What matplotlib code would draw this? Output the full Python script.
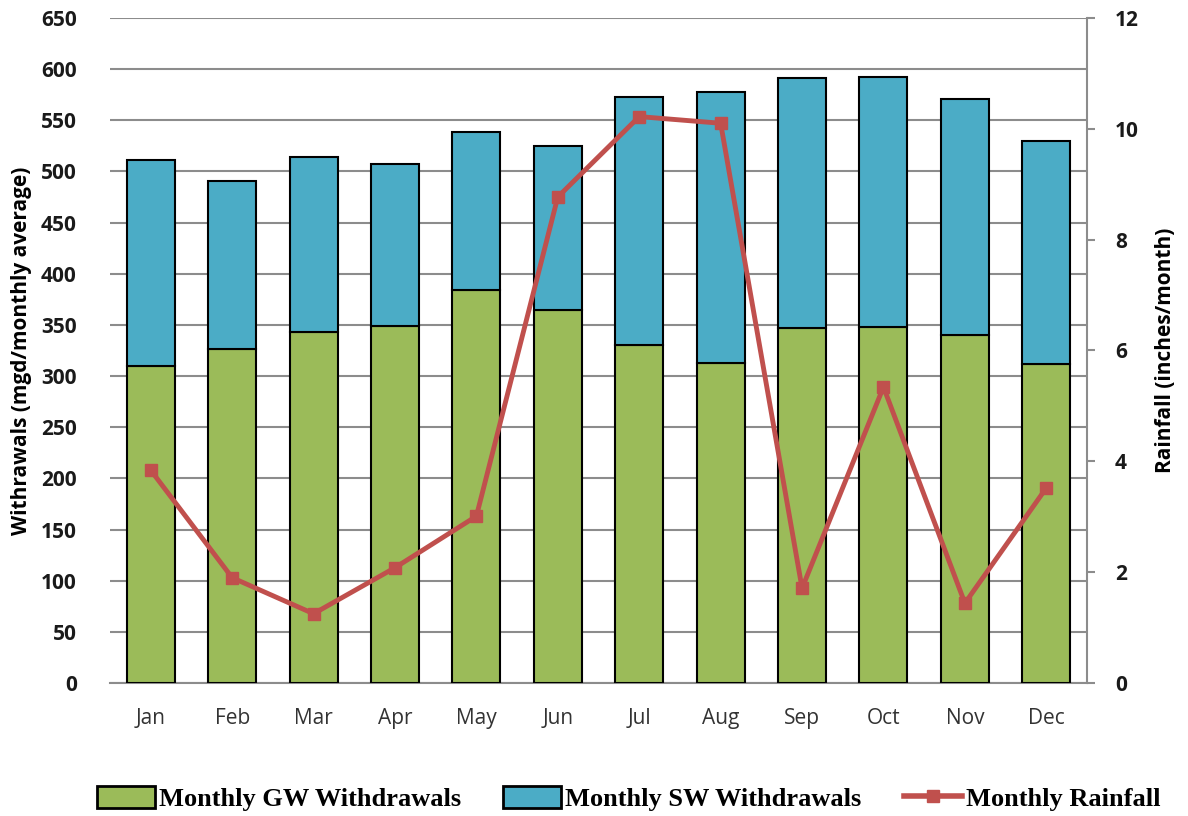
import matplotlib
matplotlib.use("Agg")
import matplotlib.pyplot as plt
from matplotlib.patches import Patch
from matplotlib.lines import Line2D
import numpy as np

months = ["Jan", "Feb", "Mar", "Apr", "May", "Jun", "Jul", "Aug", "Sep", "Oct", "Nov", "Dec"]
gw = [310, 326, 343, 349, 384, 365, 330, 313, 347, 348, 340, 312]
total = [511, 491, 514, 507, 539, 525, 573, 578, 591, 592, 571, 530]
sw = [t - g for t, g in zip(total, gw)]
rain = [3.84, 1.90, 1.25, 2.08, 3.01, 8.77, 10.22, 10.10, 1.71, 5.34, 1.44, 3.52]

GREEN = "#9BBB59"
BLUE = "#4BACC6"
RED = "#C0504D"
GRID = "#8C8C8C"

fig = plt.figure(figsize=(11.88, 8.16), dpi=100)
ax = fig.add_axes([0.0926, 0.163, 0.8224, 0.815])
x = np.arange(len(months))
w = 0.59
ax.bar(x, gw, w, color=GREEN, edgecolor="black", linewidth=1.5, zorder=3)
ax.bar(x, sw, w, bottom=gw, color=BLUE, edgecolor="black", linewidth=1.5, zorder=3)
ax.set_xlim(-0.5, 11.5)
ax.set_ylim(0, 650)
ax.set_yticks(range(0, 651, 50))
ax.yaxis.grid(True, color=GRID, linewidth=1.5, zorder=0)
ax.set_axisbelow(True)
for s in ["top", "left", "right"]:
    ax.spines[s].set_visible(False)
ax.spines["bottom"].set_color(GRID)
ax.spines["bottom"].set_linewidth(1.5)
ax.tick_params(axis="y", length=0, pad=24, labelsize=15, labelcolor="#1a1a1a")
ax.tick_params(axis="x", length=0, pad=18, labelsize=15, labelcolor="#333333")
for lab in ax.get_yticklabels():
    lab.set_fontweight("bold")
    lab.set_family("Open Sans")
ax.set_xticks(x)
ax.set_xticklabels(months, family="Open Sans")
ax.set_ylabel("Withrawals (mgd/monthly average)", fontsize=15, fontweight="bold",
              family="Open Sans", labelpad=6)

ax2 = ax.twinx()
ax2.plot(x, rain, color=RED, linewidth=3.5, marker="s", markersize=9, zorder=5)
ax2.set_ylim(0, 12)
ax2.set_yticks(range(0, 13, 2))
for s in ["top", "left", "bottom"]:
    ax2.spines[s].set_visible(False)
ax2.spines["right"].set_color(GRID)
ax2.spines["right"].set_linewidth(1.5)
ax2.tick_params(axis="y", length=6, width=1.5, color=GRID, pad=14, labelsize=15,
                labelcolor="#1a1a1a")
for lab in ax2.get_yticklabels():
    lab.set_fontweight("bold")
    lab.set_family("Open Sans")
ax2.set_ylabel("Rainfall (inches/month)", fontsize=15, fontweight="bold",
               family="Open Sans", labelpad=12)

handles = [Patch(facecolor=GREEN, edgecolor="black", linewidth=2),
           Patch(facecolor=BLUE, edgecolor="black", linewidth=2),
           Line2D([0], [0], color=RED, linewidth=4, marker="s", markersize=8)]
labels = ["Monthly GW Withdrawals", "Monthly SW Withdrawals", "Monthly Rainfall"]
fig.legend(handles, labels, loc="center", bbox_to_anchor=(0.529, 0.021), ncol=3,
           frameon=False, prop={"family": "Liberation Serif", "weight": "bold", "size": 19},
           handlelength=2.2, handleheight=0.9, handletextpad=0.15, columnspacing=1.6)

fig.savefig("out.png", dpi=100)
